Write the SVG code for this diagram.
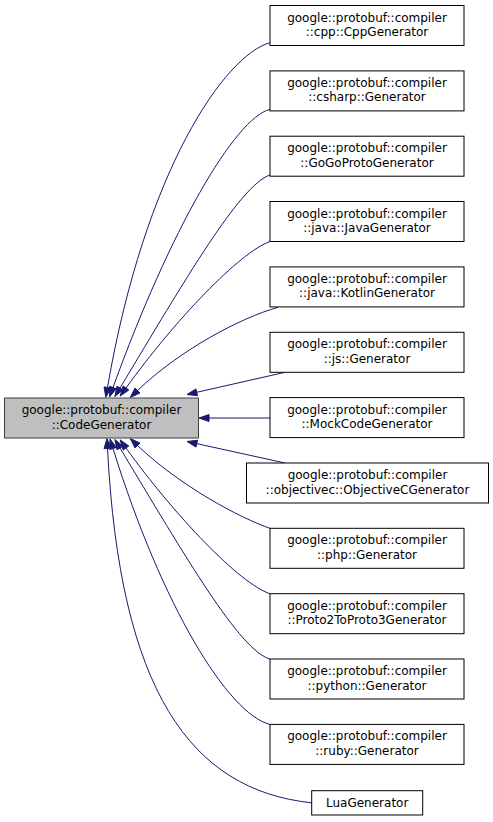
<svg xmlns="http://www.w3.org/2000/svg" width="493" height="822" viewBox="0 0 493 822">
<style>
.node rect{fill:#ffffff;stroke:#000000;stroke-width:1}
.base rect{fill:#bfbfbf;stroke:#404040;stroke-width:1}
text{font-family:"DejaVu Sans","Liberation Sans",sans-serif;font-size:12px;fill:#000000;text-anchor:middle}
.edge path{fill:none;stroke:#191970;stroke-width:1}
.edge polygon{fill:#191970;stroke:#191970;stroke-width:1}
</style>
<rect x="0" y="0" width="493" height="822" fill="#ffffff"/>
<g id="edges">
<g class="edge"><path d="M270,42.7 C225,55 145,170 107.5,387.5"/><polygon points="104.05,386.9 105.8,397.35 110.95,388.1"/></g>
<g class="edge"><path d="M270,109.3 C235,118 170,230 113,387.5"/><polygon points="109.71,386.31 109.6,396.9 116.29,388.69"/></g>
<g class="edge"><path d="M270,175 C240,185 185,280 120,388"/><polygon points="117,386.19 114.84,396.57 123,389.81"/></g>
<g class="edge"><path d="M270,241.5 C240,252 175,320 126,388"/><polygon points="123.16,385.95 120.15,396.11 128.84,390.05"/></g>
<g class="edge"><path d="M278,307.3 C240,318 180,350 137.5,390.5"/><polygon points="135.09,387.97 130.26,397.4 139.92,393.03"/></g>
<g class="edge"><path d="M285,372.3 L196.75,392.29"/><polygon points="195.98,388.88 187,394.5 197.52,395.7"/></g>
<g class="edge"><path d="M270,418 L209,418"/><polygon points="209,414.5 199,418 209,421.5"/></g>
<g class="edge"><path d="M285,463 L196.77,443.64"/><polygon points="197.52,440.22 187,441.5 196.02,447.06"/></g>
<g class="edge"><path d="M270,528.3 C240,518 180,486 137.5,445.5"/><polygon points="139.92,442.97 130.26,438.6 135.09,448.03"/></g>
<g class="edge"><path d="M270,593.7 C240,584 175,516 126,448"/><polygon points="128.84,445.95 120.15,439.89 123.16,450.05"/></g>
<g class="edge"><path d="M270,659 C240,651 185,556 120,448"/><polygon points="123,446.19 114.84,439.43 117,449.81"/></g>
<g class="edge"><path d="M270,724.4 C228,714 162,606 113,448.5"/><polygon points="116.34,447.46 110.03,438.95 109.66,449.54"/></g>
<g class="edge"><path d="M311.7,802.8 C190,790 120,690 107.5,448.5"/><polygon points="111,448.32 106.98,438.51 104,448.68"/></g>
</g>
<g id="node-base" class="base"><rect x="4.5" y="398" width="194" height="40"/><text x="101.5" y="414">google::protobuf::compiler</text><text x="101.5" y="428.5">::CodeGenerator</text></g>
<g id="node-cpp" class="node"><rect x="270" y="5.5" width="194" height="40"/><text x="367" y="21.5">google::protobuf::compiler</text><text x="367" y="36">::cpp::CppGenerator</text></g>
<g id="node-csharp" class="node"><rect x="270" y="70.9" width="194" height="40"/><text x="367" y="86.9">google::protobuf::compiler</text><text x="367" y="101.4">::csharp::Generator</text></g>
<g id="node-gogo" class="node"><rect x="270" y="136.2" width="194" height="40"/><text x="367" y="152.2">google::protobuf::compiler</text><text x="367" y="166.7">::GoGoProtoGenerator</text></g>
<g id="node-java" class="node"><rect x="270" y="201.5" width="194" height="40"/><text x="367" y="217.5">google::protobuf::compiler</text><text x="367" y="232">::java::JavaGenerator</text></g>
<g id="node-kotlin" class="node"><rect x="270" y="266.9" width="194" height="40"/><text x="367" y="282.9">google::protobuf::compiler</text><text x="367" y="297.4">::java::KotlinGenerator</text></g>
<g id="node-js" class="node"><rect x="270" y="332.3" width="194" height="40"/><text x="367" y="348.3">google::protobuf::compiler</text><text x="367" y="362.8">::js::Generator</text></g>
<g id="node-mock" class="node"><rect x="270" y="397.6" width="194" height="40"/><text x="367" y="413.6">google::protobuf::compiler</text><text x="367" y="428.1">::MockCodeGenerator</text></g>
<g id="node-objc" class="node"><rect x="246.5" y="463" width="242" height="40"/><text x="367.5" y="479">google::protobuf::compiler</text><text x="367.5" y="493.5">::objectivec::ObjectiveCGenerator</text></g>
<g id="node-php" class="node"><rect x="270" y="528.3" width="194" height="40"/><text x="367" y="544.3">google::protobuf::compiler</text><text x="367" y="558.8">::php::Generator</text></g>
<g id="node-proto2" class="node"><rect x="270" y="593.7" width="194" height="40"/><text x="367" y="609.7">google::protobuf::compiler</text><text x="367" y="624.2">::Proto2ToProto3Generator</text></g>
<g id="node-python" class="node"><rect x="270" y="659" width="194" height="40"/><text x="367" y="675">google::protobuf::compiler</text><text x="367" y="689.5">::python::Generator</text></g>
<g id="node-ruby" class="node"><rect x="270" y="724.4" width="194" height="40"/><text x="367" y="740.4">google::protobuf::compiler</text><text x="367" y="754.9">::ruby::Generator</text></g>
<g id="node-lua" class="node"><rect x="311.7" y="790.7" width="111" height="24.3"/><text x="367.2" y="807">LuaGenerator</text></g>
</svg>
